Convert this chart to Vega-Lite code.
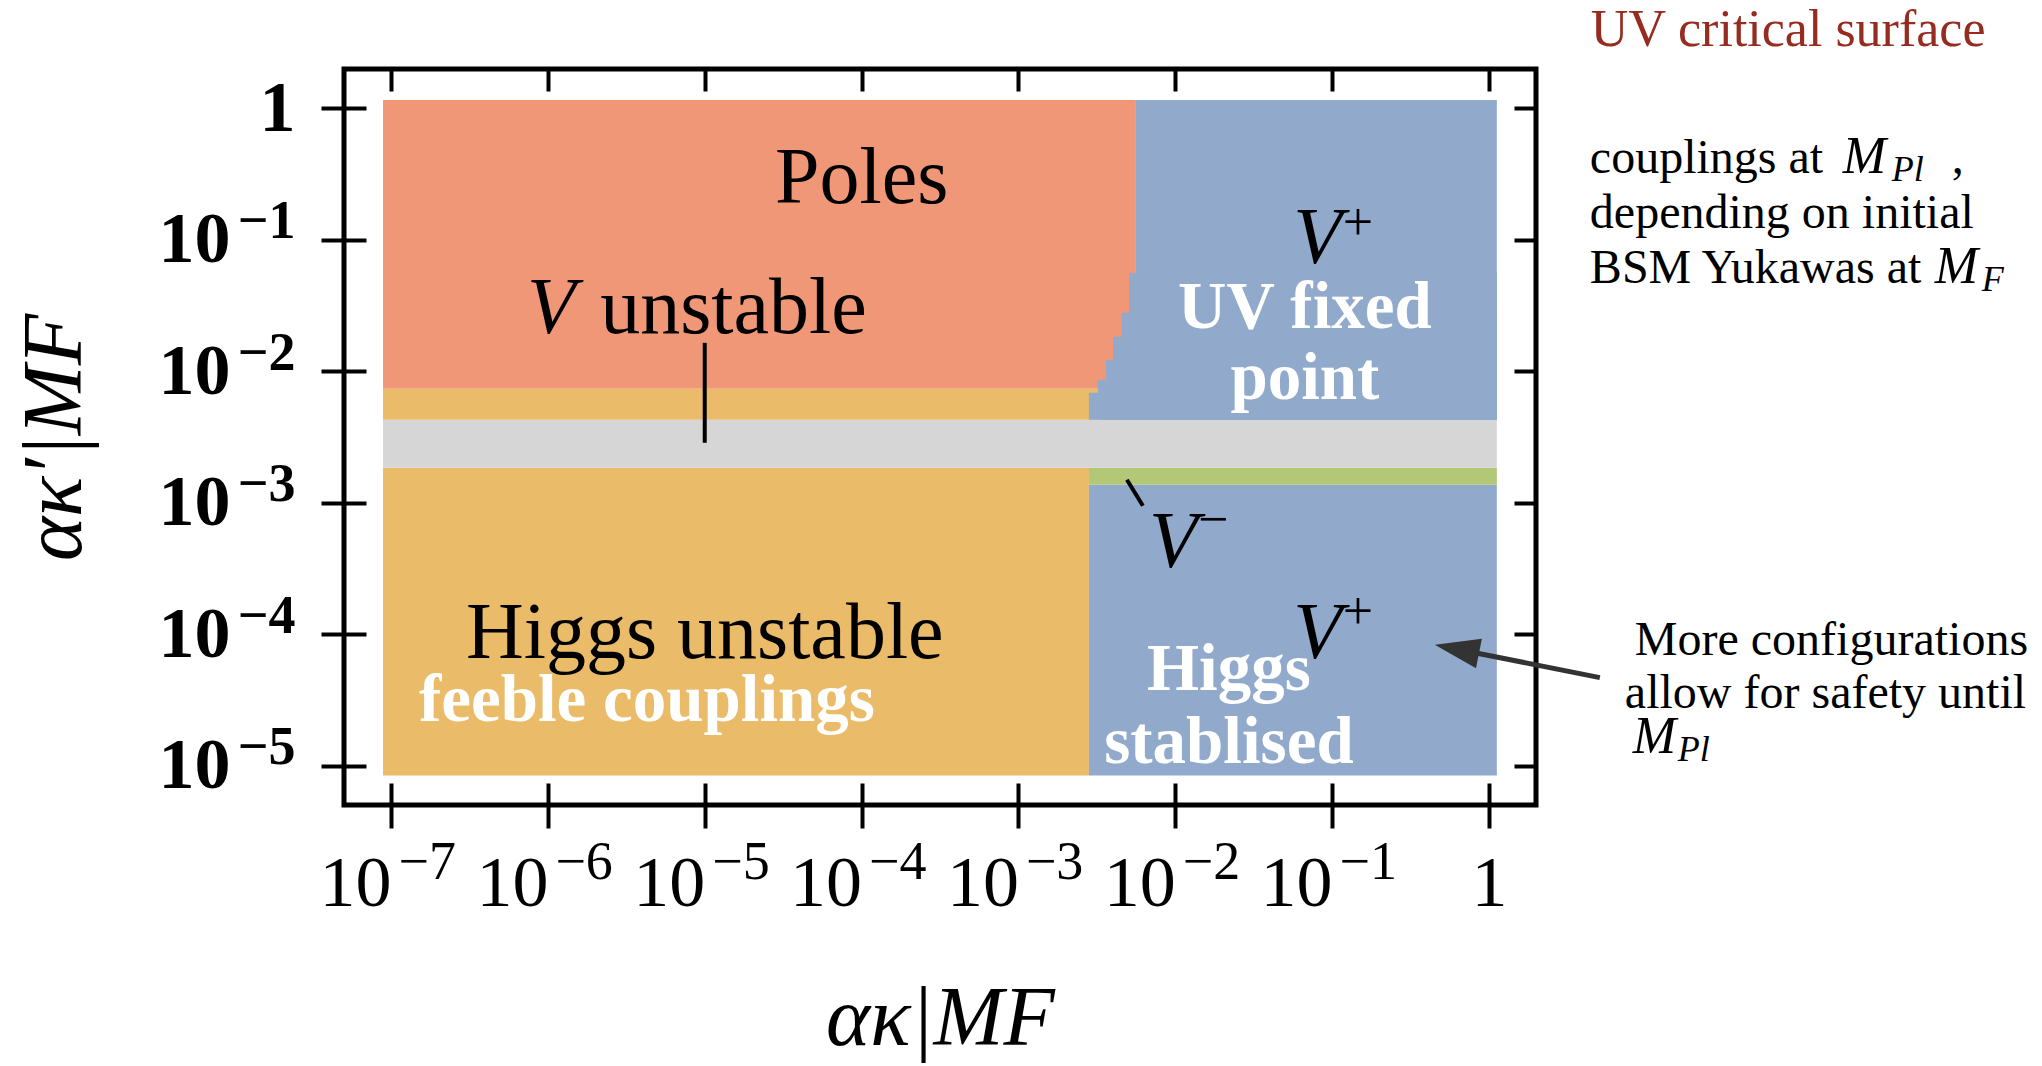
{
  "$schema": "https://vega.github.io/schema/vega-lite/v6.json",
  "autosize": {"type": "none"},
  "padding": {"left": 344, "top": 69, "right": 506, "bottom": 261},
  "width": 1192,
  "height": 736,
  "background": "white",
  "config": {
    "view": {"stroke": "black", "strokeWidth": 5},
    "text": {"font": "Liberation Serif"}
  },
  "resolve": {"axis": {"x": "independent", "y": "independent"}},
  "layer": [
    {
      "data": {"values": [
        {"region": "Higgs unstable", "x1": 8.89e-8, "x2": 0.002815, "y1": 8.39e-6, "y2": 0.001845},
        {"region": "V+", "x1": 0.002815, "x2": 1.123, "y1": 8.39e-6, "y2": 0.001371},
        {"region": "V-", "x1": 0.002815, "x2": 1.123, "y1": 0.001371, "y2": 0.001845},
        {"region": "V unstable", "x1": 8.89e-8, "x2": 1.123, "y1": 0.001845, "y2": 0.004276},
        {"region": "Higgs unstable", "x1": 8.89e-8, "x2": 0.00561, "y1": 0.004276, "y2": 0.00735},
        {"region": "Poles", "x1": 8.89e-8, "x2": 0.00561, "y1": 0.00735, "y2": 1.16},
        {"region": "V+", "x1": 0.00561, "x2": 1.123, "y1": 0.004276, "y2": 1.16},
        {"region": "V+", "x1": 0.005086, "x2": 1.123, "y1": 0.004276, "y2": 0.05607},
        {"region": "V+", "x1": 0.00455, "x2": 1.123, "y1": 0.004276, "y2": 0.02783},
        {"region": "V+", "x1": 0.004022, "x2": 1.123, "y1": 0.004276, "y2": 0.01828},
        {"region": "V+", "x1": 0.003614, "x2": 1.123, "y1": 0.004276, "y2": 0.01222},
        {"region": "V+", "x1": 0.003214, "x2": 1.123, "y1": 0.004276, "y2": 0.00861},
        {"region": "V+", "x1": 0.002815, "x2": 1.123, "y1": 0.004276, "y2": 0.006857}
      ]},
      "mark": {"type": "rect"},
      "encoding": {
        "x": {"field": "x1", "type": "quantitative",
          "scale": {"type": "log", "domain": [5.0119e-8, 1.9953], "nice": false},
          "axis": {"orient": "bottom", "values": [1e-7, 1e-6, 1e-5, 1e-4, 1e-3, 1e-2, 1e-1, 1],
            "labelExpr": "datum.value > 0.5 ? '1' : '10'",
            "tickSize": 23, "tickWidth": 4, "tickColor": "black", "domain": false, "grid": false,
            "labelFont": "Liberation Serif", "labelFontSize": 72, "labelColor": "black",
            "labelAlign": {"condition": {"test": "datum.value > 0.5", "value": "center"}, "value": "right"},
            "labelBaseline": "alphabetic", "labelPadding": 77, "labelOverlap": false, "labelBound": false, "labelFlush": false,
            "title": "ακ|MF", "titleFont": "Liberation Serif", "titleFontStyle": "italic", "titleFontWeight": "normal",
            "titleFontSize": 84, "titleColor": "black", "titleBaseline": "alphabetic", "titleY": 239, "zindex": 1}},
        "x2": {"field": "x2"},
        "y": {"field": "y1", "type": "quantitative",
          "scale": {"type": "log", "domain": [5.0119e-6, 1.9953], "nice": false},
          "axis": {"orient": "left", "values": [1e-5, 1e-4, 1e-3, 1e-2, 1e-1, 1],
            "labelExpr": "datum.value > 0.5 ? '' : '10'",
            "tickSize": 23, "tickWidth": 4, "tickColor": "black", "domain": false, "grid": false,
            "labelFont": "Liberation Serif", "labelFontSize": 72, "labelFontWeight": "bold", "labelColor": "black",
            "labelBaseline": "middle", "labelAlign": "right", "labelPadding": 91, "labelOverlap": false, "labelBound": false, "labelFlush": false,
            "title": "ακ′|MF", "titleFont": "Liberation Serif", "titleFontStyle": "italic", "titleFontWeight": "normal",
            "titleFontSize": 84, "titleColor": "black", "titleBaseline": "alphabetic", "titleX": -264, "zindex": 1}},
        "y2": {"field": "y2"},
        "color": {"field": "region", "type": "nominal", "legend": null,
          "scale": {"domain": ["Poles", "Higgs unstable", "V unstable", "V-", "V+"],
                    "range": ["#EF9777", "#EABB69", "#D6D6D6", "#B2C876", "#91AACB"]}}
      }
    },
    {
      "data": {"values": [
        {"label": "feeble couplings", "x": 4.28e-6, "y": 2.2e-5},
        {"label": "UV fixed", "x": 0.0671, "y": 0.0214},
        {"label": "point", "x": 0.0671, "y": 0.006173},
        {"label": "Higgs", "x": 0.02198, "y": 3.78e-5},
        {"label": "stablised", "x": 0.02198, "y": 1.053e-5}
      ]},
      "mark": {"type": "text", "font": "Liberation Serif", "fontWeight": "bold", "fontSize": 67, "color": "white", "align": "center", "baseline": "alphabetic"},
      "encoding": {
        "x": {"field": "x", "type": "quantitative", "scale": {"type": "log", "domain": [5.0119e-8, 1.9953], "nice": false},
          "axis": {"orient": "bottom", "values": [1e-7, 1e-6, 1e-5, 1e-4, 1e-3, 1e-2, 1e-1, 1], "tickSize": -22, "tickWidth": 4, "tickColor": "black", "labels": false, "domain": false, "grid": false, "title": null, "zindex": 1}},
        "y": {"field": "y", "type": "quantitative", "scale": {"type": "log", "domain": [5.0119e-6, 1.9953], "nice": false},
          "axis": {"orient": "left", "values": [1e-5, 1e-4, 1e-3, 1e-2, 1e-1, 1], "tickSize": -22, "tickWidth": 4, "tickColor": "black", "labels": false, "domain": false, "grid": false, "title": null, "zindex": 1}},
        "text": {"field": "label"}
      }
    },
    {
      "data": {"values": [
        {"label": "Poles", "x": 1e-4, "y": 0.191},
        {"label": "unstable", "x": 1.524e-5, "y": 0.0196},
        {"label": "Higgs unstable", "x": 1e-5, "y": 6.62e-5}
      ]},
      "mark": {"type": "text", "font": "Liberation Serif", "fontSize": 80, "color": "black", "align": "center", "baseline": "alphabetic"},
      "encoding": {
        "x": {"field": "x", "type": "quantitative", "scale": {"type": "log", "domain": [5.0119e-8, 1.9953], "nice": false},
          "axis": {"orient": "top", "values": [1e-7, 1e-6, 1e-5, 1e-4, 1e-3, 1e-2, 1e-1, 1], "tickSize": -22, "tickWidth": 4, "tickColor": "black", "labels": false, "domain": false, "grid": false, "title": null, "zindex": 1}},
        "y": {"field": "y", "type": "quantitative", "scale": {"type": "log", "domain": [5.0119e-6, 1.9953], "nice": false},
          "axis": {"orient": "right", "values": [1e-5, 1e-4, 1e-3, 1e-2, 1e-1, 1], "tickSize": -22, "tickWidth": 4, "tickColor": "black", "labels": false, "domain": false, "grid": false, "title": null, "zindex": 1}},
        "text": {"field": "label"}
      }
    },
    {
      "data": {"values": [
        {"label": "V", "x": 7.36e-7, "y": 0.0196},
        {"label": "V", "x": 0.0566, "y": 0.06678},
        {"label": "V", "x": 0.0566, "y": 6.62e-5},
        {"label": "V", "x": 0.00679, "y": 0.000326}
      ]},
      "mark": {"type": "text", "font": "Liberation Serif", "fontStyle": "italic", "fontSize": 80, "color": "black", "align": "left", "baseline": "alphabetic"},
      "encoding": {
        "x": {"field": "x", "type": "quantitative", "scale": {"type": "log", "domain": [5.0119e-8, 1.9953], "nice": false},
          "axis": {"orient": "bottom", "values": [1e-7, 1e-6, 1e-5, 1e-4, 1e-3, 1e-2, 1e-1, 1],
            "labelExpr": "datum.value > 0.5 ? '' : '−' + round(-log(datum.value)/LN10)",
            "tickSize": 23, "tickOpacity": 0, "domain": false, "grid": false,
            "labelFont": "Liberation Serif", "labelFontSize": 54, "labelColor": "black",
            "labelAlign": "left", "labelOffset": 7, "labelBaseline": "alphabetic", "labelPadding": 50,
            "labelOverlap": false, "labelBound": false, "labelFlush": false, "title": null, "zindex": 1}},
        "y": {"field": "y", "type": "quantitative", "scale": {"type": "log", "domain": [5.0119e-6, 1.9953], "nice": false},
          "axis": {"orient": "left", "values": [1e-5, 1e-4, 1e-3, 1e-2, 1e-1, 1],
            "labelExpr": "datum.value > 0.5 ? '1' : '−' + round(-log(datum.value)/LN10)",
            "tickSize": 23, "tickOpacity": 0, "domain": false, "grid": false,
            "labelFont": "Liberation Serif", "labelFontWeight": "bold", "labelColor": "black",
            "labelFontSize": {"condition": {"test": "datum.value > 0.5", "value": 72}, "value": 54},
            "labelOffset": {"condition": {"test": "datum.value > 0.5", "value": 0}, "value": -18},
            "labelAlign": "right", "labelBaseline": "middle", "labelPadding": 26,
            "labelOverlap": false, "labelBound": false, "labelFlush": false, "title": null, "zindex": 1}},
        "text": {"field": "label"}
      }
    },
    {
      "data": {"values": [
        {"label": "+", "x": 0.1171, "y": 0.0999},
        {"label": "+", "x": 0.1171, "y": 1.1e-4},
        {"label": "−", "x": 0.01394, "y": 0.000551}
      ]},
      "mark": {"type": "text", "font": "Liberation Serif", "fontSize": 54, "color": "black", "align": "left", "baseline": "alphabetic"},
      "encoding": {
        "x": {"field": "x", "type": "quantitative", "scale": {"type": "log", "domain": [5.0119e-8, 1.9953], "nice": false}, "axis": null},
        "y": {"field": "y", "type": "quantitative", "scale": {"type": "log", "domain": [5.0119e-6, 1.9953], "nice": false}, "axis": null},
        "text": {"field": "label"}
      }
    },
    {
      "data": {"values": [
        {"x": 1e-5, "y": 0.01646, "x2": 1e-5, "y2": 0.002858},
        {"x": 0.004917, "y": 0.001494, "x2": 0.006218, "y2": 0.000948}
      ]},
      "mark": {"type": "rule", "color": "black", "strokeWidth": 4},
      "encoding": {
        "x": {"field": "x", "type": "quantitative", "scale": {"type": "log", "domain": [5.0119e-8, 1.9953], "nice": false}, "axis": null},
        "y": {"field": "y", "type": "quantitative", "scale": {"type": "log", "domain": [5.0119e-6, 1.9953], "nice": false}, "axis": null},
        "x2": {"field": "x2"},
        "y2": {"field": "y2"}
      }
    },
    {
      "data": {"values": [
        {"x": 5.095, "y": 4.665e-5, "x2": 0.7557, "y2": 7.355e-5}
      ]},
      "mark": {"type": "rule", "color": "#333333", "strokeWidth": 5},
      "encoding": {
        "x": {"field": "x", "type": "quantitative", "scale": {"type": "log", "domain": [5.0119e-8, 1.9953], "nice": false}, "axis": null},
        "y": {"field": "y", "type": "quantitative", "scale": {"type": "log", "domain": [5.0119e-6, 1.9953], "nice": false}, "axis": null},
        "x2": {"field": "x2"},
        "y2": {"field": "y2"}
      }
    },
    {
      "data": {"values": [
        {"x": 0.6245, "y": 7.69e-5}
      ]},
      "mark": {"type": "point", "shape": "M-1,0L1,-0.67L1,0.67Z", "filled": true, "color": "#333333", "opacity": 1, "size": 2025, "angle": 11.3, "strokeWidth": 0},
      "encoding": {
        "x": {"field": "x", "type": "quantitative", "scale": {"type": "log", "domain": [5.0119e-8, 1.9953], "nice": false}, "axis": null},
        "y": {"field": "y", "type": "quantitative", "scale": {"type": "log", "domain": [5.0119e-6, 1.9953], "nice": false}, "axis": null}
      }
    },
    {
      "data": {"values": [
        {"label": "couplings at", "x": 4.4, "y": 0.3229},
        {"label": ",", "x": 893.8, "y": 0.3229},
        {"label": "depending on initial", "x": 4.4, "y": 0.1233},
        {"label": "BSM Yukawas at", "x": 4.4, "y": 0.04706},
        {"label": "More configurations", "x": 8.516, "y": 6.98e-5},
        {"label": "allow for safety until", "x": 7.355, "y": 2.76e-5}
      ]},
      "mark": {"type": "text", "font": "Liberation Serif", "fontSize": 48, "color": "black", "align": "left", "baseline": "alphabetic"},
      "encoding": {
        "x": {"field": "x", "type": "quantitative", "scale": {"type": "log", "domain": [5.0119e-8, 1.9953], "nice": false}, "axis": null},
        "y": {"field": "y", "type": "quantitative", "scale": {"type": "log", "domain": [5.0119e-6, 1.9953], "nice": false}, "axis": null},
        "text": {"field": "label"}
      }
    },
    {
      "data": {"values": [
        {"label": "M", "x": 180.4, "y": 0.3229},
        {"label": "M", "x": 696.3, "y": 0.04706},
        {"label": "M", "x": 8.27, "y": 1.255e-5}
      ]},
      "mark": {"type": "text", "font": "Liberation Serif", "fontStyle": "italic", "fontSize": 52, "color": "black", "align": "left", "baseline": "alphabetic"},
      "encoding": {
        "x": {"field": "x", "type": "quantitative", "scale": {"type": "log", "domain": [5.0119e-8, 1.9953], "nice": false}, "axis": null},
        "y": {"field": "y", "type": "quantitative", "scale": {"type": "log", "domain": [5.0119e-6, 1.9953], "nice": false}, "axis": null},
        "text": {"field": "label"}
      }
    },
    {
      "data": {"values": [
        {"label": "Pl", "x": 370.5, "y": 0.2808},
        {"label": "F", "x": 1388, "y": 0.0409},
        {"label": "Pl", "x": 16.01, "y": 1.09e-5}
      ]},
      "mark": {"type": "text", "font": "Liberation Serif", "fontStyle": "italic", "fontSize": 36, "color": "black", "align": "left", "baseline": "alphabetic"},
      "encoding": {
        "x": {"field": "x", "type": "quantitative", "scale": {"type": "log", "domain": [5.0119e-8, 1.9953], "nice": false}, "axis": null},
        "y": {"field": "y", "type": "quantitative", "scale": {"type": "log", "domain": [5.0119e-6, 1.9953], "nice": false}, "axis": null},
        "text": {"field": "label"}
      }
    },
    {
      "data": {"values": [
        {"label": "UV critical surface", "x": 4.465, "y": 2.985}
      ]},
      "mark": {"type": "text", "font": "Liberation Serif", "fontSize": 52, "color": "#962B20", "align": "left", "baseline": "alphabetic"},
      "encoding": {
        "x": {"field": "x", "type": "quantitative", "scale": {"type": "log", "domain": [5.0119e-8, 1.9953], "nice": false}, "axis": null},
        "y": {"field": "y", "type": "quantitative", "scale": {"type": "log", "domain": [5.0119e-6, 1.9953], "nice": false}, "axis": null},
        "text": {"field": "label"}
      }
    }
  ]
}
